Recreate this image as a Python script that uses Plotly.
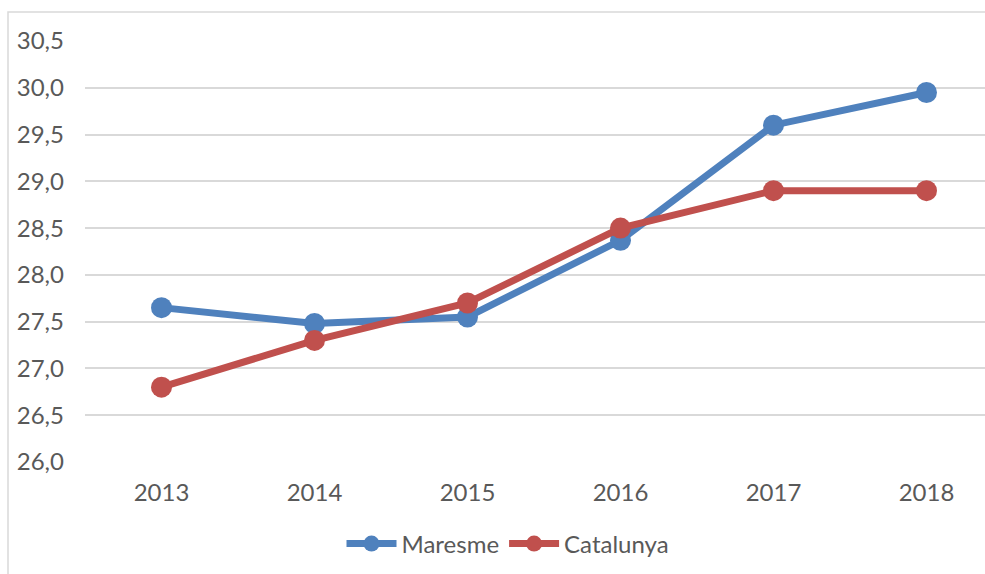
import plotly.graph_objects as go

years = ["2013", "2014", "2015", "2016", "2017", "2018"]
maresme = [27.65, 27.48, 27.55, 28.37, 29.6, 29.95]
catalunya = [26.8, 27.3, 27.7, 28.5, 28.9, 28.9]
y_ticks = [26.0, 26.5, 27.0, 27.5, 28.0, 28.5, 29.0, 29.5, 30.0, 30.5]
y_tick_text = [f"{v:.1f}".replace(".", ",") for v in y_ticks]

x = list(range(len(years)))
fig = go.Figure()
fig.add_trace(go.Scatter(x=x, y=maresme, name="Maresme", mode="lines+markers",
                         line=dict(color="#4F81BD", width=7),
                         marker=dict(size=21, color="#4F81BD")))
fig.add_trace(go.Scatter(x=x, y=catalunya, name="Catalunya", mode="lines+markers",
                         line=dict(color="#C0504D", width=7),
                         marker=dict(size=21, color="#C0504D")))

L, T, B = 85, 41, 112
plot_w = 985 - L
plot_h = 574 - T - B
font_family = "Lato, 'Noto Sans', sans-serif"
fig.update_layout(
    width=985, height=574,
    margin=dict(l=L, r=0, t=T, b=B),
    paper_bgcolor="white", plot_bgcolor="white",
    font=dict(family=font_family, size=24, color="#595959"),
    showlegend=True,
    legend=dict(orientation="h", x=(508 - L) / plot_w, xanchor="center",
                y=(462 - 544) / plot_h, yanchor="middle",
                font=dict(size=24, color="#595959"), itemwidth=50),
    xaxis=dict(range=[-0.5, -0.5 + plot_w / 153], tickvals=x, ticktext=years, showgrid=False,
               zeroline=False, showline=False, ticks="", ticklabelstandoff=14),
    yaxis=dict(range=[26.0, 30.5], tickvals=y_ticks, ticktext=y_tick_text,
               showgrid=True, gridcolor="#D9D9D9", gridwidth=1.5, zeroline=False,
               showline=False, ticks="", ticklabelstandoff=20),
    shapes=[dict(type="rect", xref="paper", yref="paper",
                 x0=(8 - L) / plot_w, x1=1.05, y0=-0.4, y1=(462 - 12) / plot_h,
                 line=dict(color="#D9D9D9", width=1.5), layer="below")],
)
fig.write_html("out.html", config={"displayModeBar": False},
               post_script="document.body.style.margin='0';document.body.style.overflow='hidden';")
